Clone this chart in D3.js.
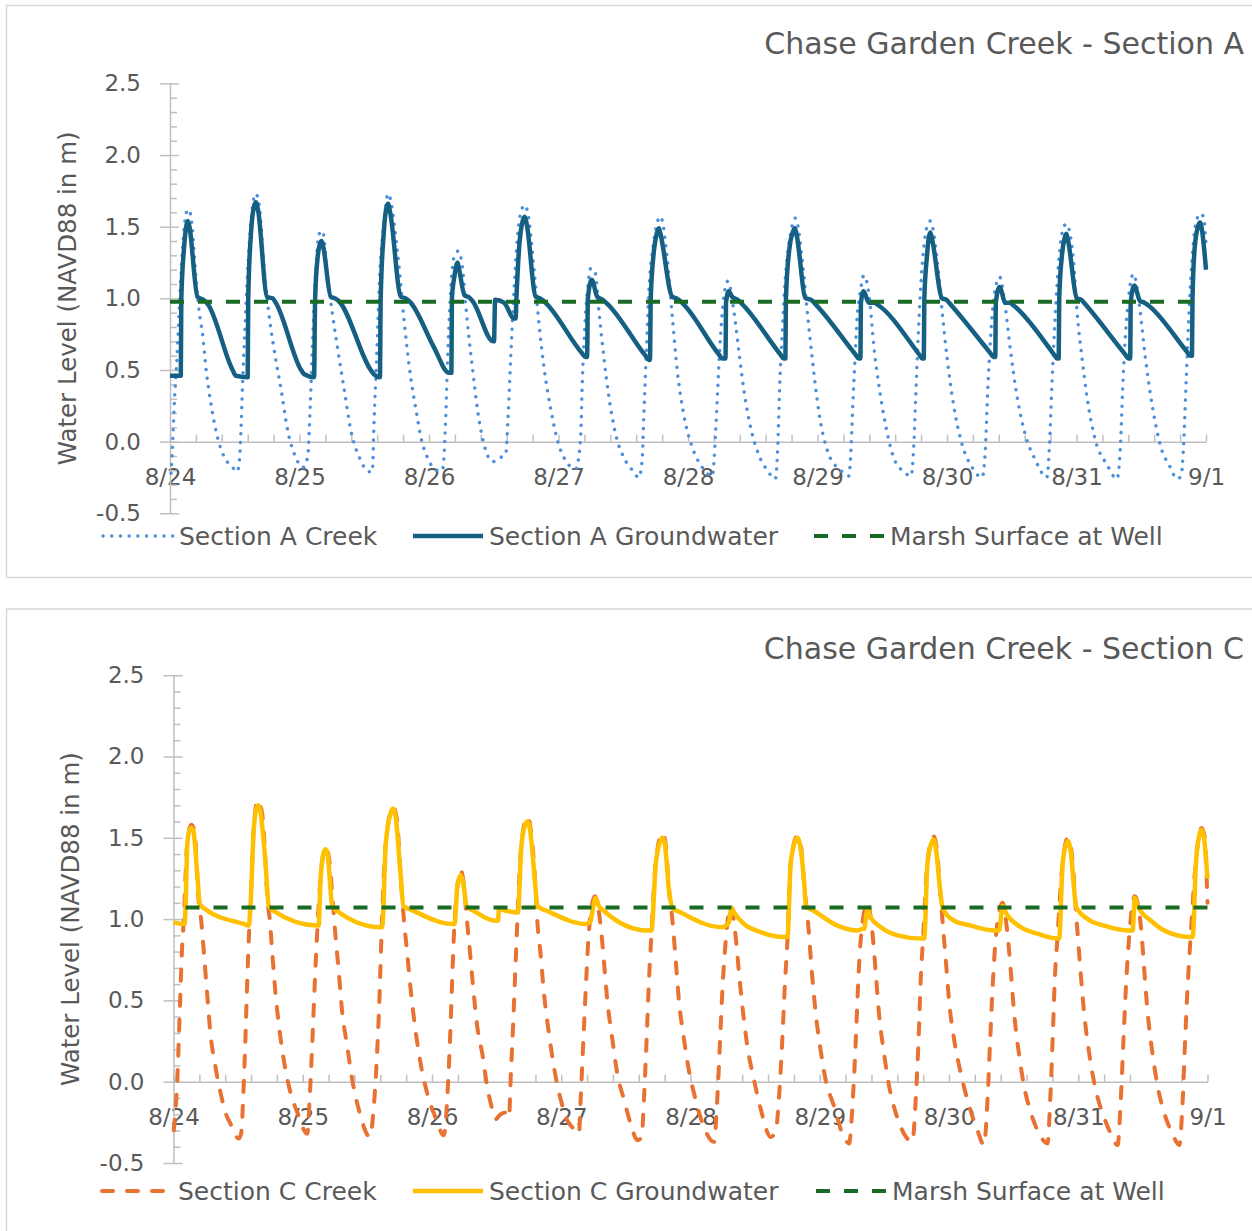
<!DOCTYPE html>
<html>
<head>
<meta charset="utf-8">
<script src="https://cdn.jsdelivr.net/npm/d3@7/dist/d3.min.js"></script>
<style>
  body { margin: 0; background: #fff; }
  text { font-family: "DejaVu Sans", sans-serif; fill: #595959; }
</style>
</head>
<body>
<div id="chart"></div>
<script>
// all series: [hours after 8/24 00:00, water level in m NAVD88]
var creekA = [[0.2,-0.22],[0.5,0.0],[0.8,0.27],[1.3,0.59],[1.7,0.91],[2.35,1.36],[2.96,1.59],[3.4,1.62],[3.9,1.57],[4.8,1.15],[5.4,0.91],[6.1,0.73],[6.7,0.50],[7.6,0.26],[8.8,0.03],[10.1,-0.11],[11.6,-0.18],[12.4,-0.21],[12.8,-0.16],[13.15,0.08],[13.45,0.40],[13.95,0.84],[14.4,1.19],[15.0,1.54],[15.9,1.73],[16.5,1.66],[17.5,1.19],[18.4,0.87],[19.3,0.64],[20.6,0.36],[21.8,0.08],[23.3,-0.11],[24.6,-0.18],[25.5,-0.11],[26.0,0.26],[26.4,0.68],[27.0,1.19],[27.65,1.45],[28.3,1.47],[29.2,1.15],[30.1,0.89],[31.1,0.64],[32.3,0.36],[33.5,0.08],[35.1,-0.11],[36.9,-0.21],[37.5,-0.21],[37.8,0.12],[38.3,0.59],[38.9,1.19],[39.7,1.54],[40.4,1.73],[42.2,1.31],[43.4,0.84],[44.6,0.45],[45.6,0.22],[46.5,0.03],[47.7,-0.11],[49.6,-0.20],[50.5,-0.20],[51.1,0.17],[51.4,0.52],[51.9,0.98],[52.65,1.29],[53.4,1.33],[54.2,1.22],[54.8,0.96],[55.4,0.73],[56.1,0.50],[57.0,0.22],[58.2,-0.02],[59.8,-0.14],[61.3,-0.11],[62.2,-0.09],[62.65,0.17],[63.15,0.59],[63.75,1.05],[64.4,1.43],[65.1,1.61],[65.7,1.65],[66.35,1.59],[67.5,1.19],[68.4,0.82],[69.3,0.52],[70.6,0.22],[71.8,0.01],[73.3,-0.13],[75.2,-0.19],[76.1,0.03],[76.4,0.40],[76.9,0.82],[77.35,1.05],[78.0,1.21],[78.8,1.18],[79.5,0.91],[80.4,0.59],[81.35,0.31],[82.6,0.05],[84.1,-0.11],[85.7,-0.20],[86.9,-0.25],[87.5,-0.13],[87.8,0.17],[88.3,0.64],[88.75,1.05],[89.6,1.38],[90.3,1.53],[90.9,1.57],[92.2,1.26],[93.1,0.87],[94.0,0.50],[95.2,0.19],[96.8,-0.04],[98.65,-0.18],[100.5,-0.24],[101.1,0.05],[101.55,0.40],[102.05,0.75],[102.55,0.98],[103.4,1.12],[104.5,0.91],[105.4,0.64],[106.35,0.36],[107.6,0.10],[109.1,-0.09],[110.7,-0.20],[112.2,-0.26],[112.65,-0.02],[113.0,0.40],[113.45,0.75],[114.05,1.15],[115.0,1.45],[115.9,1.56],[117.2,1.26],[118.1,0.91],[119.0,0.59],[120.2,0.22],[122.1,-0.09],[124.3,-0.20],[125.8,-0.24],[126.25,-0.02],[126.55,0.26],[126.9,0.54],[127.35,0.87],[127.95,1.05],[128.6,1.16],[129.8,0.94],[130.4,0.68],[131.35,0.40],[132.6,0.12],[134.1,-0.11],[136.0,-0.21],[137.35,-0.24],[137.8,-0.06],[138.15,0.26],[138.55,0.64],[139.05,1.03],[139.7,1.36],[140.3,1.50],[140.9,1.54],[142.2,1.26],[143.1,0.91],[144.0,0.59],[145.2,0.26],[146.8,-0.02],[148.65,-0.18],[150.5,-0.25],[151.1,-0.06],[151.55,0.36],[152.05,0.71],[152.55,0.96],[153.75,1.15],[154.8,0.94],[155.75,0.64],[157.0,0.31],[158.5,0.05],[160.4,-0.13],[162.5,-0.25],[163.0,-0.02],[163.45,0.40],[164.05,0.87],[164.7,1.26],[165.3,1.45],[166.1,1.52],[167.45,1.26],[168.1,0.91],[169.0,0.59],[169.95,0.31],[171.5,0.01],[173.65,-0.16],[175.5,-0.26],[176.1,-0.06],[176.55,0.36],[177.05,0.73],[177.65,1.01],[178.55,1.17],[179.8,0.91],[180.75,0.59],[182.0,0.26],[183.5,-0.02],[185.4,-0.18],[186.6,-0.26],[187.4,-0.24],[187.85,-0.02],[188.3,0.40],[188.75,0.82],[189.4,1.26],[190.0,1.50],[190.9,1.59],[191.55,1.57],[192.0,1.38]];

var groundA = [[0,0.46],[2.0,0.46],[2.1,1.0],[2.6,1.35],[3.0,1.50],[3.3,1.54],[3.6,1.50],[5.1,1.01],[6.2,0.99],[7.0,0.96],[11.6,0.50],[12.2,0.46],[14.4,0.45],[14.5,1.0],[15.0,1.45],[15.5,1.63],[15.9,1.67],[16.3,1.62],[18.0,1.01],[19.0,1.0],[19.6,0.97],[24.3,0.50],[24.9,0.47],[26.7,0.45],[26.9,1.0],[27.4,1.3],[27.8,1.38],[28.1,1.40],[28.4,1.36],[29.8,1.01],[30.6,1.0],[31.3,0.98],[37.2,0.50],[37.8,0.47],[38.9,0.45],[39.05,1.0],[39.6,1.45],[40.0,1.61],[40.4,1.66],[40.8,1.60],[42.8,1.01],[43.7,1.0],[44.6,0.97],[48.9,0.66],[51.7,0.48],[52.15,0.48],[52.25,1.0],[52.7,1.15],[53.3,1.25],[53.6,1.20],[54.6,1.02],[55.3,1.01],[56.1,0.98],[59.9,0.70],[60.05,0.70],[60.25,0.99],[61.9,0.97],[63.75,0.86],[64.05,0.86],[64.2,1.0],[64.8,1.4],[65.3,1.53],[65.75,1.57],[66.1,1.52],[67.8,1.01],[68.6,1.0],[69.3,0.98],[76.3,0.62],[77.0,0.59],[77.3,0.59],[77.45,1.0],[78.15,1.13],[79.2,1.01],[80.2,0.99],[81.1,0.96],[88.1,0.60],[88.75,0.57],[88.95,0.57],[89.1,1.0],[89.6,1.3],[90.2,1.45],[90.6,1.49],[90.9,1.45],[93.1,1.01],[93.9,1.0],[94.6,0.98],[101.7,0.61],[102.35,0.58],[102.95,0.58],[103.05,0.97],[103.55,1.05],[104.2,1.01],[105.2,0.99],[106.05,0.96],[113.1,0.61],[113.75,0.58],[114.05,0.58],[114.15,1.0],[114.8,1.35],[115.4,1.46],[115.8,1.49],[116.1,1.45],[117.8,1.0],[118.8,0.99],[119.6,0.96],[127.0,0.61],[127.65,0.58],[127.95,0.58],[128.05,0.97],[128.55,1.05],[129.5,0.97],[130.5,0.97],[131.35,0.95],[138.8,0.61],[139.4,0.58],[139.7,0.58],[139.8,1.0],[140.3,1.3],[140.6,1.42],[140.9,1.46],[141.2,1.42],[143.1,1.0],[143.9,0.99],[144.6,0.96],[152.0,0.62],[152.65,0.59],[152.95,0.59],[153.05,0.97],[153.75,1.08],[154.8,0.97],[155.6,0.97],[156.35,0.95],[163.8,0.61],[164.4,0.58],[164.7,0.58],[164.8,1.0],[165.3,1.3],[165.8,1.42],[166.1,1.45],[166.4,1.41],[168.1,1.0],[168.9,0.99],[169.6,0.96],[177.0,0.61],[177.65,0.58],[177.95,0.58],[178.05,0.97],[178.7,1.09],[179.8,0.98],[180.6,0.97],[181.35,0.95],[188.4,0.63],[189.05,0.60],[189.4,0.60],[189.5,1.0],[189.9,1.35],[190.5,1.50],[190.9,1.53],[191.2,1.49],[192.0,1.2]];

var creekC = [[0.05,-0.30],[0.7,0.01],[1.15,0.42],[1.6,0.83],[1.9,0.99],[2.55,1.47],[3.3,1.58],[3.9,1.54],[4.7,1.10],[5.15,0.99],[5.65,0.79],[6.25,0.54],[6.85,0.30],[7.8,0.09],[8.75,-0.07],[9.65,-0.19],[10.6,-0.26],[12.1,-0.35],[12.55,-0.32],[12.95,-0.09],[13.35,0.26],[13.7,0.63],[14.0,0.89],[14.3,1.10],[14.9,1.56],[15.65,1.73],[16.5,1.64],[17.1,1.34],[17.4,1.14],[17.9,0.99],[18.35,0.79],[18.95,0.54],[19.75,0.30],[20.5,0.13],[21.75,-0.07],[23.0,-0.19],[24.85,-0.32],[25.3,-0.09],[25.75,0.22],[26.2,0.58],[26.7,0.93],[27.3,1.25],[28.25,1.44],[28.8,1.39],[29.65,1.08],[30.1,0.89],[30.6,0.71],[31.35,0.42],[32.25,0.22],[33.2,0.01],[34.4,-0.17],[36.5,-0.34],[37.1,-0.19],[37.7,0.11],[38.25,0.52],[38.65,0.93],[39.4,1.46],[40.75,1.69],[41.5,1.61],[42.15,1.28],[42.8,0.99],[43.4,0.79],[44.0,0.58],[45.0,0.30],[45.95,0.10],[47.1,-0.07],[48.65,-0.22],[50.2,-0.33],[50.85,-0.09],[51.35,0.26],[51.75,0.63],[52.05,0.89],[52.7,1.20],[53.3,1.30],[53.95,1.20],[54.35,1.04],[54.85,0.87],[55.5,0.63],[56.4,0.34],[57.35,0.17],[58.25,-0.03],[59.2,-0.17],[59.8,-0.23],[60.75,-0.20],[61.65,-0.19],[62.3,-0.22],[62.6,0.01],[63.1,0.38],[63.55,0.75],[63.85,0.99],[64.6,1.46],[65.7,1.63],[66.45,1.52],[67.25,1.18],[67.55,0.99],[68.15,0.79],[68.8,0.54],[69.7,0.30],[70.65,0.09],[71.9,-0.11],[73.15,-0.24],[74.05,-0.28],[75.3,-0.32],[75.6,-0.11],[76.2,0.32],[76.7,0.67],[77.15,0.93],[78.25,1.14],[79.35,0.95],[79.95,0.73],[80.55,0.50],[81.5,0.26],[82.4,0.05],[83.65,-0.11],[84.9,-0.26],[86.15,-0.36],[86.95,-0.34],[87.35,-0.11],[87.85,0.26],[88.3,0.63],[88.75,0.91],[89.55,1.35],[90.8,1.53],[91.4,1.46],[92.0,1.18],[92.65,0.99],[93.25,0.75],[93.85,0.50],[94.8,0.26],[95.7,0.07],[96.95,-0.11],[98.5,-0.28],[100.35,-0.37],[101.0,-0.09],[101.5,0.26],[101.95,0.58],[102.55,0.87],[103.45,1.08],[104.4,0.89],[105.0,0.67],[105.65,0.46],[106.55,0.22],[107.8,0.01],[109.05,-0.17],[110.9,-0.34],[111.85,-0.30],[112.45,-0.09],[113.05,0.26],[113.5,0.58],[114.0,0.87],[114.6,1.35],[115.85,1.51],[116.45,1.46],[117.2,1.18],[117.85,0.97],[118.45,0.71],[119.25,0.42],[120.05,0.22],[121.1,0.01],[122.65,-0.15],[124.2,-0.32],[125.45,-0.38],[126.1,-0.13],[126.7,0.26],[127.1,0.58],[127.6,0.87],[128.85,1.10],[129.8,0.91],[130.4,0.67],[131.0,0.42],[131.95,0.17],[132.9,-0.03],[134.1,-0.19],[135.65,-0.32],[137.2,-0.37],[137.85,-0.09],[138.35,0.26],[138.75,0.63],[139.2,0.89],[140.0,1.35],[141.1,1.51],[141.75,1.43],[142.35,1.18],[142.8,0.99],[143.4,0.75],[144.0,0.50],[144.95,0.26],[146.2,0.05],[147.75,-0.15],[149.3,-0.30],[150.5,-0.39],[151.15,-0.11],[151.65,0.26],[152.1,0.58],[152.7,0.89],[153.95,1.10],[154.85,0.91],[155.5,0.67],[156.1,0.42],[157.0,0.17],[157.95,-0.03],[159.2,-0.19],[160.75,-0.32],[162.3,-0.38],[162.8,-0.11],[163.25,0.26],[163.65,0.63],[164.15,0.89],[165.1,1.35],[166.1,1.50],[166.7,1.43],[167.75,0.97],[168.35,0.71],[169.1,0.42],[170.05,0.17],[171.25,-0.05],[172.8,-0.22],[174.05,-0.32],[175.3,-0.39],[175.9,-0.11],[176.4,0.26],[176.85,0.58],[177.45,0.89],[178.5,1.14],[179.65,0.95],[180.25,0.69],[180.9,0.42],[181.8,0.17],[182.75,-0.03],[183.95,-0.19],[185.5,-0.32],[186.75,-0.39],[187.4,-0.11],[187.85,0.26],[188.3,0.58],[188.9,0.91],[189.85,1.36],[190.9,1.56],[191.45,1.51],[192.0,1.1]];

var groundC = [[0,0.98],[1.9,0.97],[2.05,0.97],[2.25,1.08],[2.55,1.45],[2.9,1.54],[3.3,1.56],[3.7,1.54],[4.4,1.28],[4.9,1.09],[5.95,1.06],[13.05,0.97],[14.0,0.96],[14.3,1.08],[14.9,1.55],[15.4,1.68],[15.75,1.70],[16.1,1.67],[17.1,1.34],[17.7,1.08],[18.6,1.05],[26.7,0.96],[26.95,0.96],[27.3,1.24],[27.9,1.41],[28.25,1.43],[28.6,1.40],[29.5,1.08],[30.4,1.05],[38.45,0.95],[38.75,0.95],[39.4,1.45],[40.3,1.65],[40.75,1.68],[41.2,1.64],[42.15,1.28],[42.7,1.08],[44.0,1.06],[51.75,0.97],[52.2,0.97],[52.7,1.20],[53.3,1.27],[53.95,1.19],[54.4,1.08],[55.8,1.05],[59.8,0.99],[60.25,0.99],[60.45,1.06],[62.0,1.05],[63.85,1.04],[63.95,1.04],[64.6,1.45],[65.3,1.58],[65.7,1.60],[66.1,1.57],[67.25,1.18],[67.55,1.08],[69.4,1.05],[76.55,0.97],[77.45,0.99],[77.8,1.05],[78.4,1.13],[79.0,1.08],[79.95,1.05],[88.0,0.93],[88.75,0.93],[89.55,1.34],[90.4,1.48],[90.8,1.50],[91.2,1.47],[92.0,1.18],[92.65,1.07],[94.2,1.04],[101.9,0.95],[102.55,0.96],[103.15,0.98],[103.6,1.07],[104.1,1.04],[105.95,0.97],[109.05,0.92],[113.35,0.89],[114.0,0.89],[114.6,1.34],[115.45,1.48],[115.85,1.50],[116.25,1.47],[117.2,1.18],[117.4,1.08],[118.95,1.05],[123.3,0.96],[127.0,0.93],[128.1,0.94],[128.25,0.94],[128.85,1.06],[129.45,1.01],[131.35,0.95],[134.45,0.90],[138.75,0.88],[139.4,0.88],[140.0,1.34],[140.75,1.47],[141.1,1.49],[141.5,1.45],[142.35,1.18],[142.8,1.07],[144.95,0.99],[148.05,0.96],[152.4,0.93],[153.3,0.93],[153.95,1.08],[154.55,1.04],[157.35,0.95],[160.45,0.91],[164.15,0.88],[164.45,0.88],[165.1,1.34],[165.75,1.46],[166.1,1.48],[166.5,1.44],[167.25,1.18],[167.55,1.08],[169.75,1.00],[172.8,0.96],[177.45,0.93],[178.1,0.93],[178.5,1.13],[179.05,1.08],[181.5,0.99],[184.6,0.92],[188.9,0.89],[189.25,0.89],[189.85,1.34],[190.5,1.52],[190.9,1.55],[191.3,1.51],[192.0,1.25]];

var marshA = [[0,0.977],[192,0.977]];
var marshC = [[0,1.072],[192,1.072]];

var dayLabels = ["8/24","8/25","8/26","8/27","8/28","8/29","8/30","8/31","9/1"];
var yTicks = [-0.5, 0.0, 0.5, 1.0, 1.5, 2.0, 2.5];
var titles = ["Chase Garden Creek - Section A", "Chase Garden Creek - Section C"];
var yTitle = "Water Level (NAVD88 in m)";
var legendA = ["Section A Creek", "Section A Groundwater", "Marsh Surface at Well"];
var legendC = ["Section C Creek", "Section C Groundwater", "Marsh Surface at Well"];

var width = 1252, height = 1231;
var svg = d3.select('#chart').append('svg')
      .attr('width', width)
      .attr('height', height);

// one panel per section
function drawPanel(p) {
      // panel frame
      svg.append('rect')
            .attr('x', 6.5).attr('y', p.boxY)
            .attr('width', 1260).attr('height', p.boxH)
            .attr('fill', 'none').attr('stroke', '#d9d9d9').attr('stroke-width', 1.5);

      var x = d3.scaleLinear().domain([0, 192]).range(p.xRange);
      var y = d3.scaleLinear().domain([-0.5, 2.5]).range(p.yRange);

      // x axis sits on the 0 line, ticks every 4.8 h pointing up
      var xAxis = d3.axisBottom(x)
            .tickValues(d3.range(0, 192.01, 4.8))
            .tickSizeInner(-7).tickSizeOuter(0)
            .tickPadding(p.xLabelPad)
            .tickFormat(function (d) {
                  var k = Math.round(d / 24);
                  return Math.abs(d - k * 24) < 0.01 ? dayLabels[k] : '';
            });
      var gx = svg.append('g')
            .attr('transform', 'translate(0,' + y(0) + ')')
            .call(xAxis);
      gx.selectAll('text').attr('y', p.xLabelPad).attr('dy', '0.71em').style('font-size', '23px');

      // y axis: labels from a left axis, minor ticks every 0.1 on the right side
      var gy = svg.append('g')
            .attr('transform', 'translate(' + p.xRange[0] + ',0)')
            .call(d3.axisLeft(y).tickValues(yTicks).tickSize(0).tickPadding(p.yLabelPad)
                  .tickFormat(function (d) { return d.toFixed(1); }));
      gy.selectAll('text').style('font-size', '23px');
      gy.select('.domain').remove();

      var minor = d3.range(-5, 26).map(function (i) { return i / 10; });
      var gm = svg.append('g')
            .attr('transform', 'translate(' + p.xRange[0] + ',0)')
            .call(d3.axisRight(y).tickValues(minor).tickSize(7).tickSizeOuter(0).tickFormat(''));
      gm.selectAll('.tick line')
            .filter(function (d) { return Math.abs(d * 2 - Math.round(d * 2)) < 0.001; })
            .attr('x1', -10).attr('x2', 9);

      svg.selectAll('.domain, .tick line').attr('stroke', '#bfbfbf').attr('stroke-width', 1.5);
      svg.selectAll('.tick text').attr('fill', '#595959').style('font-family', '"DejaVu Sans", sans-serif');

      // series
      p.series.forEach(function (s) {
            var line = d3.line()
                  .x(function (d) { return x(d[0]); })
                  .y(function (d) { return y(d[1]); })
                  .curve(d3.curveMonotoneX);
            svg.append('path')
                  .datum(s.data)
                  .attr('d', line)
                  .attr('fill', 'none')
                  .attr('stroke', s.color)
                  .attr('stroke-width', s.width)
                  .attr('stroke-dasharray', s.dash)
                  .attr('stroke-dashoffset', s.offset || 0)
                  .attr('stroke-linecap', s.cap)
                  .attr('stroke-linejoin', 'round');
      });

      // title, axis title
      svg.append('text')
            .attr('x', 1244).attr('y', p.titleY)
            .attr('text-anchor', 'end').attr('dominant-baseline', 'central')
            .style('font-size', '30px')
            .text(p.title);

      svg.append('text')
            .attr('transform', 'rotate(-90)')
            .attr('x', -(p.yRange[0] + p.yRange[1]) / 2)
            .attr('y', p.yTitleX)
            .attr('text-anchor', 'middle').attr('dominant-baseline', 'central')
            .style('font-size', '24.5px')
            .text(yTitle);

      // legend
      p.series.forEach(function (s, i) {
            var lx = p.legendX[i];
            svg.append('line')
                  .attr('x1', lx).attr('x2', lx + 70)
                  .attr('y1', p.legendY).attr('y2', p.legendY)
                  .attr('stroke', s.color)
                  .attr('stroke-width', s.width)
                  .attr('stroke-dasharray', s.dash)
                  .attr('stroke-linecap', s.cap);
            svg.append('text')
                  .attr('x', lx + 76).attr('y', p.legendY)
                  .attr('dominant-baseline', 'central')
                  .style('font-size', '25px')
                  .text(p.legend[i]);
      });
}

drawPanel({
      boxY: 5.5, boxH: 572,
      xRange: [170, 1206], yRange: [513.3, 83.4],
      xLabelPad: 27, yLabelPad: 29,
      titleY: 43, yTitleX: 67, legendY: 536,
      legendX: [103, 413, 814],
      title: titles[0], legend: legendA,
      series: [
            { data: creekA, color: '#4a8fdb', width: 3.4, dash: '0.1 8.6', cap: 'round' },
            { data: groundA, color: '#156082', width: 4.5, dash: null, cap: 'butt' },
            { data: marshA, color: '#196b24', width: 4, dash: '14 14', cap: 'butt' }
      ]
});

drawPanel({
      boxY: 609, boxH: 640,
      xRange: [173.5, 1207.5], yRange: [1163, 675.2],
      xLabelPad: 27, yLabelPad: 29,
      titleY: 648, yTitleX: 70, legendY: 1191,
      legendX: [102, 413, 816],
      title: titles[1], legend: legendC,
      series: [
            { data: creekC, color: '#e97132', width: 4, dash: '11 14', cap: 'round' },
            { data: groundC, color: '#ffc000', width: 4.5, dash: null, cap: 'butt' },
            { data: marshC, color: '#196b24', width: 4, dash: '14 14', cap: 'butt', offset: 16 }
      ]
});
</script>
</body>
</html>
